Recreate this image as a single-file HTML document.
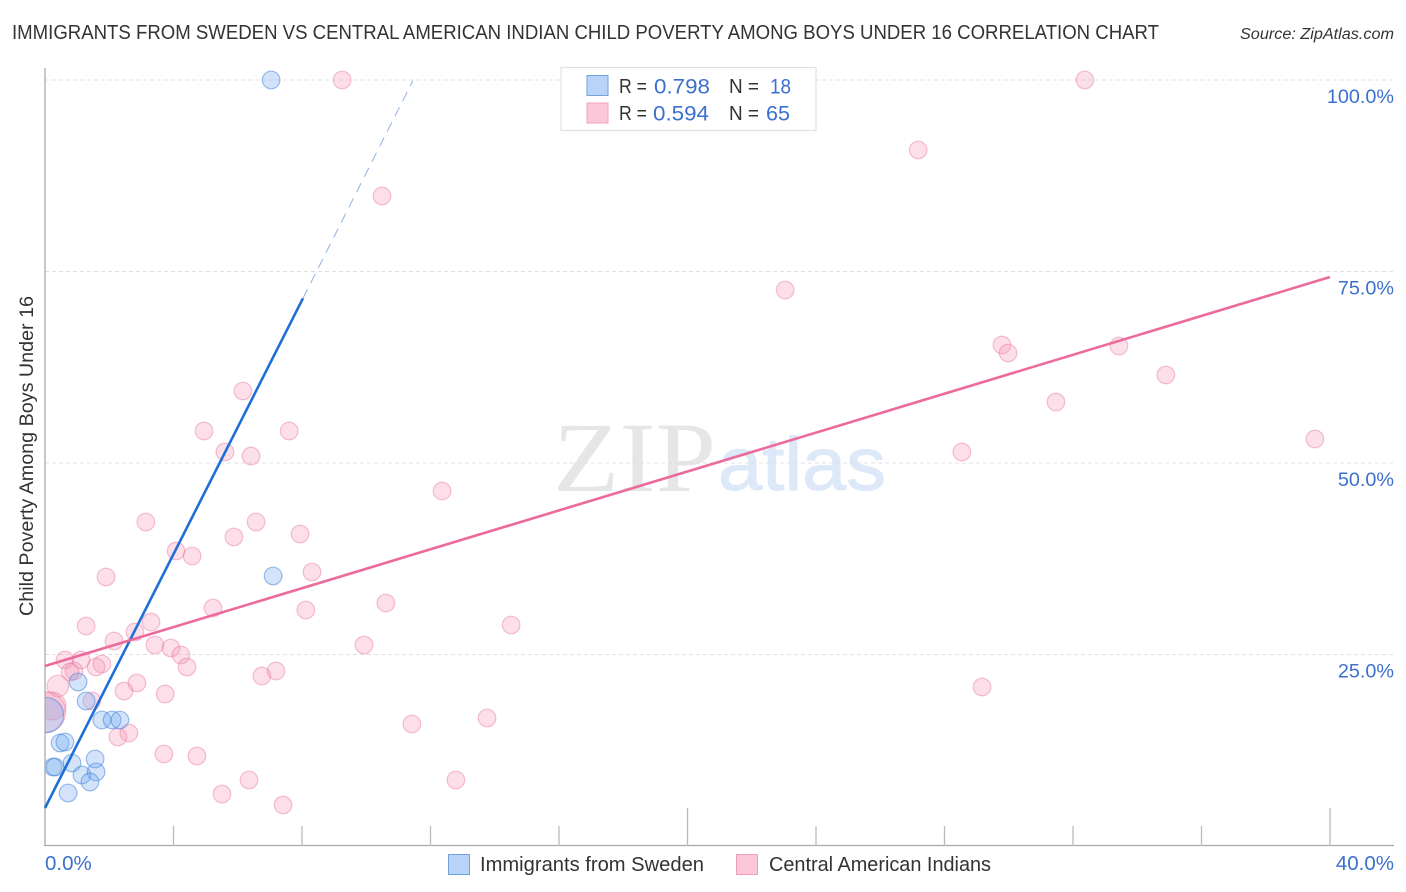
<!DOCTYPE html>
<html lang="en">
<head>
<meta charset="utf-8">
<title>Immigrants from Sweden vs Central American Indian Child Poverty Correlation Chart</title>
<style>
html,body{margin:0;padding:0;background:#fff;width:1406px;height:892px;overflow:hidden}
svg{display:block;font-family:"Liberation Sans",sans-serif}
</style>
</head>
<body>
<svg id="chart" width="1406" height="892" viewBox="0 0 1406 892" xmlns="http://www.w3.org/2000/svg">
  <text x="12" y="39" font-size="20" fill="#333" textLength="1147" lengthAdjust="spacingAndGlyphs">IMMIGRANTS FROM SWEDEN VS CENTRAL AMERICAN INDIAN CHILD POVERTY AMONG BOYS UNDER 16 CORRELATION CHART</text>
  <text x="1394" y="39" font-size="15.5" font-style="italic" fill="#333" text-anchor="end" textLength="154" lengthAdjust="spacingAndGlyphs">Source: ZipAtlas.com</text>
  <g>
    <text x="553" y="491" font-size="100" fill="#e6e6e6" style="font-family:'Liberation Serif',serif" textLength="163" lengthAdjust="spacingAndGlyphs">ZIP</text>
    <text x="718" y="490" font-size="75" fill="#dde8f8" stroke="#dde8f8" stroke-width="1" style="font-family:'Liberation Sans',sans-serif" textLength="168" lengthAdjust="spacingAndGlyphs">atlas</text>
  </g>
  <g id="grid"></g>
  <g id="points"></g>
  <rect x="0" y="60" width="44.500" height="786" fill="#fff"/>
  <g id="axes"></g>
  <g id="trends"></g>
  <text transform="translate(33,456) rotate(-90)" font-size="19" fill="#333" text-anchor="middle" textLength="320" lengthAdjust="spacingAndGlyphs">Child Poverty Among Boys Under 16</text>
  <g>
    <rect x="561" y="67.5" width="255" height="63" fill="#fff" stroke="#e2e2e2" stroke-width="1.2"/>
    <rect x="587" y="75.5" width="21" height="20" fill="#b8d3f7" stroke="#6fa3e0"/>
    <rect x="587" y="103" width="21" height="20" fill="#fcc8d9" stroke="#f0a0bc"/>
    <g font-size="20" fill="#333">
      <text x="619" y="93" textLength="28" lengthAdjust="spacingAndGlyphs">R =</text>
      <text x="729" y="93" textLength="30" lengthAdjust="spacingAndGlyphs">N =</text>
      <text x="619" y="120" textLength="28" lengthAdjust="spacingAndGlyphs">R =</text>
      <text x="729" y="120" textLength="30" lengthAdjust="spacingAndGlyphs">N =</text>
    </g>
    <g font-size="21" fill="#3b70cf">
      <text x="654" y="93.500" textLength="56" lengthAdjust="spacingAndGlyphs">0.798</text>
      <text x="770" y="93.500" textLength="21" lengthAdjust="spacingAndGlyphs">18</text>
      <text x="653" y="120.500" textLength="56" lengthAdjust="spacingAndGlyphs">0.594</text>
      <text x="766" y="120.500" textLength="24" lengthAdjust="spacingAndGlyphs">65</text>
    </g>
  </g>
  <g>
    <rect x="448.500" y="854.500" width="21" height="20" fill="#b8d3f7" stroke="#6fa3e0"/>
    <text x="480" y="871" font-size="20" fill="#333" textLength="224" lengthAdjust="spacingAndGlyphs">Immigrants from Sweden</text>
    <rect x="736.500" y="854.500" width="21" height="20" fill="#fcc8d9" stroke="#f0a0bc"/>
    <text x="769" y="871" font-size="20" fill="#333" textLength="222" lengthAdjust="spacingAndGlyphs">Central American Indians</text>
  </g>
</svg>
<script>
const yTickValues = [25, 50, 75, 100];
const yTickLabels = ["25.0%", "50.0%", "75.0%", "100.0%"];
const xTickValues = [0, 4, 8, 12, 16, 20, 24, 28, 32, 36, 40];
const xMajorTicks = [20, 40];
const xEndLabels = ["0.0%", "40.0%"];

const swedenX = [7.04, 7.10, 1.03, 1.28, 1.77, 2.09, 2.33, 0.47, 0.62, 0.25, 0.31, 0.84, 1.56, 1.15, 1.59, 1.40, 0.72, 0.03];
const swedenY = [100, 35.25, 21.41, 18.93, 16.45, 16.45, 16.45, 13.45, 13.58, 10.31, 10.31, 10.84, 11.36, 9.27, 9.66, 8.36, 6.92, 17.10];
const swedenWeight = [1, 1, 1, 1, 1, 1, 1, 1, 1, 1, 1, 1, 1, 1, 1, 1, 1, 4];

const centralX = [9.25, 32.37, 27.18, 10.49, 23.04, 29.79, 29.98, 33.43, 34.89, 31.47, 39.53, 28.54, 6.16, 4.95, 7.60, 5.60, 6.41, 12.36, 3.14, 6.57, 5.88, 7.94, 4.08, 4.58, 1.90, 8.31, 10.61, 5.23, 8.12, 1.28, 3.30, 14.51, 2.80, 2.15, 3.42, 3.92, 9.93, 4.23, 0.62, 1.12, 4.42, 1.77, 1.59, 0.90, 0.78, 7.19, 6.75, 2.86, 0.40, 2.46, 3.74, 29.17, 1.46, 13.76, 11.42, 2.61, 2.27, 3.70, 4.73, 6.35, 12.79, 5.51, 7.41, 0.22, 0];
const centralY = [100, 100, 90.86, 84.86, 72.58, 65.40, 64.36, 65.27, 61.49, 57.96, 53.13, 51.44, 59.40, 54.18, 54.18, 51.44, 50.91, 46.34, 42.30, 42.30, 40.34, 40.73, 38.51, 37.86, 35.12, 35.77, 31.72, 31.07, 30.81, 28.72, 29.24, 28.85, 27.94, 26.76, 26.24, 25.85, 26.24, 24.93, 24.28, 24.28, 23.37, 23.76, 23.37, 22.85, 22.72, 22.85, 22.19, 21.28, 20.89, 20.23, 19.84, 20.76, 18.93, 16.71, 15.93, 14.75, 14.23, 12.01, 11.75, 8.62, 8.62, 6.79, 5.35, 18.28, 17.49];
const centralWeight = [1, 1, 1, 1, 1, 1, 1, 1, 1, 1, 1, 1, 1, 1, 1, 1, 1, 1, 1, 1, 1, 1, 1, 1, 1, 1, 1, 1, 1, 1, 1, 1, 1, 1, 1, 1, 1, 1, 1, 1, 1, 1, 1, 1, 1, 1, 1, 1, 1.5, 1, 1, 1, 1, 1, 1, 1, 1, 1, 1, 1, 1, 1, 1, 2.5, 5.5];

const swedenTrendX = [0, 8.03, 11.45];
const swedenTrendY = [4.96, 71.5, 99.9];
const centralTrendX = [0, 40];
const centralTrendY = [23.5, 74.28];

const NS = "http://www.w3.org/2000/svg";
const xPos = v => 45 + v * 32.125;
const yPos = v => 846 - v * 7.66;
const radius = w => 8.8 * Math.sqrt(w);

function make(parent, tag, attrs, text) {
  const el = document.createElementNS(NS, tag);
  for (const k in attrs) el.setAttribute(k, attrs[k]);
  if (text !== undefined) el.textContent = text;
  parent.appendChild(el);
  return el;
}

const grid = document.getElementById("grid");
const axes = document.getElementById("axes");
const pts = document.getElementById("points");
const trends = document.getElementById("trends");

[...yTickValues].forEach((v, i) => {
  const line = make(grid, "line", {x1: 45, x2: 1394, y1: yPos(v), y2: yPos(v), stroke: "#e0e0e0", "stroke-width": 1, "stroke-dasharray": "4 3"});
  
  
  const label = make(axes, "text", {x: 1394, y: yPos(v) + 23, "font-size": 19.8, fill: "#3b70cf", "text-anchor": "end"}, yTickLabels[i]);
  
  
});

const yAxis = make(axes, "line", {x1: 45, x2: 45, y1: 68, y2: 846, stroke: "#aaa", "stroke-width": 1.3});


const xAxis = make(axes, "line", {x1: 44, x2: 1394, y1: 845.5, y2: 845.5, stroke: "#aaa", "stroke-width": 1.3});



xTickValues.forEach(v => {
  if (v === 0) return;
  const top = xMajorTicks.includes(v) ? 808 : 826;
  const tick = make(axes, "line", {x1: xPos(v), x2: xPos(v), y1: top, y2: 846, stroke: "#bbb", "stroke-width": 1.3});
  
  
});

const xStart = make(axes, "text", {x: 45, y: 870, "font-size": 20.5, fill: "#3b70cf"}, xEndLabels[0]);


const xEnd = make(axes, "text", {x: 1394, y: 870, "font-size": 20.5, fill: "#3b70cf", "text-anchor": "end"}, xEndLabels[1]);



centralX.forEach((x, i) => {
  const c = make(pts, "circle", {cx: xPos(x), cy: yPos(centralY[i]), r: radius(centralWeight[i]), fill: "rgba(246,150,182,0.3)", stroke: "rgba(232,110,155,0.42)", "stroke-width": 1.2});
  
  
});
swedenX.forEach((x, i) => {
  const c = make(pts, "circle", {cx: xPos(x), cy: yPos(swedenY[i]), r: radius(swedenWeight[i]), fill: "rgba(110,165,240,0.3)", stroke: "rgba(60,125,220,0.5)", "stroke-width": 1.2});
  
  
});

const swedenSolid = make(trends, "line", {x1: xPos(swedenTrendX[0]), y1: yPos(swedenTrendY[0]), x2: xPos(swedenTrendX[1]), y2: yPos(swedenTrendY[1]), stroke: "#1f6fd8", "stroke-width": 2.6});


const swedenDash = make(trends, "line", {x1: xPos(swedenTrendX[1]), y1: yPos(swedenTrendY[1]), x2: xPos(swedenTrendX[2]), y2: yPos(swedenTrendY[2]), stroke: "#8fb3e3", "stroke-width": 1, "stroke-dasharray": "10 7"});


const centralLine = make(trends, "line", {x1: xPos(centralTrendX[0]), y1: yPos(centralTrendY[0]), x2: xPos(centralTrendX[1]), y2: yPos(centralTrendY[1]), stroke: "#ec6a9c", "stroke-width": 2.6});


</script>
</body>
</html>
